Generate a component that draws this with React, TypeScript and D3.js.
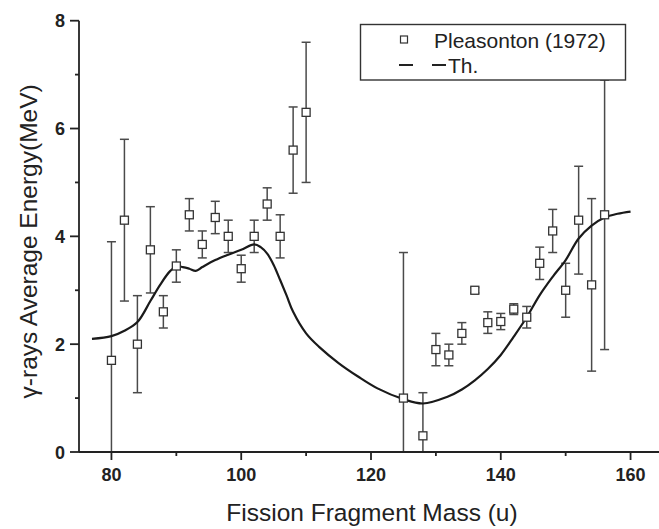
import React from "react";
import * as d3 from "d3";

const masses = [80, 82, 84, 86, 88, 90, 92, 94, 96, 98, 100, 102, 104, 106, 108, 110, 125, 128, 130, 132, 134, 136, 138, 140, 142, 144, 146, 148, 150, 152, 154, 156];
const energies = [1.7, 4.3, 2.0, 3.75, 2.6, 3.45, 4.4, 3.85, 4.35, 4.0, 3.4, 4.0, 4.6, 4.0, 5.6, 6.3, 1.0, 0.3, 1.9, 1.8, 2.2, 3.0, 2.4, 2.42, 2.65, 2.5, 3.5, 4.1, 3.0, 4.3, 3.1, 4.4];
const errors = [2.2, 1.5, 0.9, 0.8, 0.3, 0.3, 0.3, 0.25, 0.3, 0.3, 0.25, 0.3, 0.3, 0.4, 0.8, 1.3, 2.7, 0.8, 0.3, 0.2, 0.2, 0.05, 0.2, 0.15, 0.1, 0.2, 0.3, 0.4, 0.5, 1.0, 1.6, 2.5];

const thMass = [77, 80, 82, 84, 86, 87.5, 89, 90, 91, 92, 93, 94, 96, 98, 100, 102, 103, 104, 105, 106, 107, 108, 110, 112, 115, 118, 121, 125, 128, 131.7, 134, 136, 138, 140, 142, 144, 146, 148, 150, 152, 154, 156, 158, 160];
const thEnergy = [2.1, 2.15, 2.25, 2.41, 2.8, 3.1, 3.35, 3.44, 3.43, 3.4, 3.36, 3.43, 3.56, 3.66, 3.75, 3.85, 3.8, 3.68, 3.47, 3.19, 2.9, 2.6, 2.2, 1.95, 1.65, 1.4, 1.18, 0.98, 0.9, 1.02, 1.16, 1.33, 1.54, 1.8, 2.14, 2.5, 2.91, 3.25, 3.56, 3.96, 4.2, 4.35, 4.42, 4.46];

const xTicks = [80, 100, 120, 140, 160];
const xMinor = [90, 110, 130, 150];
const yTicks = [0, 2, 4, 6, 8];
const yMinor = [1, 3, 5, 7];

const W = 659;
const H = 529;
const FONT = "'Liberation Sans', Arial, sans-serif";

export default function App() {
  const x = d3.scaleLinear().domain([75, 165]).range([79, 663]);
  const y = d3.scaleLinear().domain([0, 8]).range([452, 20.7]);
  const x0 = x(75);
  const y0 = y(0);

  const line = d3
    .line<number>()
    .x((_, i) => x(thMass[i]))
    .y((d) => y(d))
    .curve(d3.curveCatmullRom.alpha(0.5));

  const pts = masses.map((m, i) => ({ m, v: energies[i], e: errors[i] }));

  return (
    <svg
      width={W}
      height={H}
      style={{ position: "absolute", left: 0, top: 0, background: "#fff" }}
      fontFamily={FONT}
    >
      <defs>
        <clipPath id="plot">
          <rect x={x0} y={0} width={W - x0} height={y0} />
        </clipPath>
      </defs>

      {/* error bars */}
      <g clipPath="url(#plot)" stroke="#4a4a4a" strokeWidth={1.5} fill="none">
        {pts.map((p, i) => (
          <g key={i}>
            <line x1={x(p.m)} x2={x(p.m)} y1={y(p.v + p.e)} y2={y(p.v - p.e)} />
            <line x1={x(p.m) - 4.5} x2={x(p.m) + 4.5} y1={y(p.v + p.e)} y2={y(p.v + p.e)} />
            <line x1={x(p.m) - 4.5} x2={x(p.m) + 4.5} y1={y(p.v - p.e)} y2={y(p.v - p.e)} />
          </g>
        ))}
      </g>

      {/* theory curve */}
      <path d={line(thEnergy) || ""} fill="none" stroke="#1a1a1a" strokeWidth={2.2} />

      {/* squares */}
      <g fill="#fff" stroke="#333" strokeWidth={1.3}>
        {pts.map((p, i) => (
          <rect key={i} x={x(p.m) - 4} y={y(p.v) - 4} width={8} height={8} />
        ))}
      </g>

      {/* axes */}
      <g stroke="#222" strokeWidth={1.8} fill="none">
        <line x1={x0} x2={W} y1={y0} y2={y0} />
        <line x1={x0} x2={x0} y1={y(8)} y2={y0} />
        {xTicks.map((t) => (
          <line key={"xt" + t} x1={x(t)} x2={x(t)} y1={y0} y2={y0 + 8} />
        ))}
        {xMinor.map((t) => (
          <line key={"xm" + t} x1={x(t)} x2={x(t)} y1={y0} y2={y0 + 4} />
        ))}
        {yTicks.map((t) => (
          <line key={"yt" + t} x1={x0 - 9} x2={x0} y1={y(t)} y2={y(t)} />
        ))}
        {yMinor.map((t) => (
          <line key={"ym" + t} x1={x0 - 4} x2={x0} y1={y(t)} y2={y(t)} />
        ))}
      </g>

      <g fontSize={18} fontWeight="bold" fill="#222">
        {xTicks.map((t) => (
          <text key={"xl" + t} x={x(t)} y={481} textAnchor="middle">
            {t}
          </text>
        ))}
        {yTicks.map((t) => (
          <text key={"yl" + t} x={65} y={y(t) + 6.5} textAnchor="end">
            {t}
          </text>
        ))}
      </g>

      <text x={372} y={521} textAnchor="middle" fontSize={24.5} fill="#222">
        Fission Fragment Mass (u)
      </text>
      <text
        transform={`translate(37, ${y(4) + 5}) rotate(-90)`}
        textAnchor="middle"
        fontSize={24.5}
        fill="#222"
      >
        γ-rays Average Energy(MeV)
      </text>

      {/* legend */}
      <g>
        <rect x={360.5} y={24.5} width={265} height={55.5} fill="#fff" stroke="#333" strokeWidth={1.4} />
        <rect x={400.5} y={36} width={7} height={7} fill="#fff" stroke="#333" strokeWidth={1.2} />
        <text x={434} y={47.5} fontSize={21} fill="#222">
          Pleasonton (1972)
        </text>
        <line x1={399} x2={447} y1={65} y2={65} stroke="#222" strokeWidth={2} strokeDasharray="14,19" />
        <text x={448} y={73} fontSize={21} fill="#222">
          Th.
        </text>
      </g>
    </svg>
  );
}
